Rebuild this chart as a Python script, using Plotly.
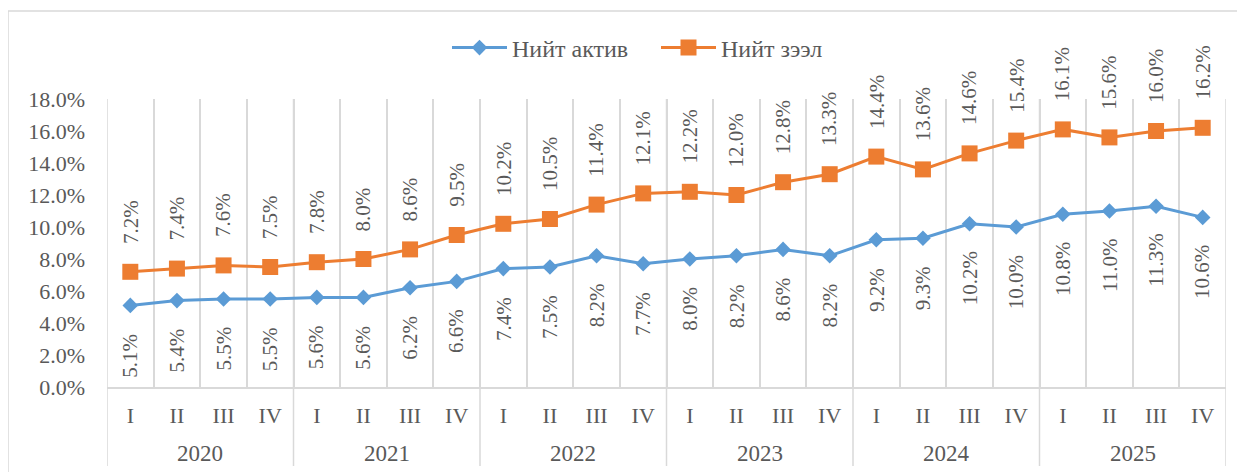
import plotly.graph_objects as go

years = ["2020"] * 4 + ["2021"] * 4 + ["2022"] * 4 + ["2023"] * 4 + ["2024"] * 4 + ["2025"] * 4
quarters = ["I", "II", "III", "IV"] * 6
niit_aktiv = [5.1, 5.4, 5.5, 5.5, 5.6, 5.6, 6.2, 6.6, 7.4, 7.5, 8.2, 7.7,
              8.0, 8.2, 8.6, 8.2, 9.2, 9.3, 10.2, 10.0, 10.8, 11.0, 11.3, 10.6]
niit_zeel = [7.2, 7.4, 7.6, 7.5, 7.8, 8.0, 8.6, 9.5, 10.2, 10.5, 11.4, 12.1,
             12.2, 12.0, 12.8, 13.3, 14.4, 13.6, 14.6, 15.4, 16.1, 15.6, 16.0, 16.2]
y_ticks = [0, 2, 4, 6, 8, 10, 12, 14, 16, 18]

BLUE = "#5B9BD5"
ORANGE = "#ED7D31"
GRAY = "#595959"
GRID = "#D9D9D9"
FONT = "Liberation Serif"

n = len(quarters)
idx = list(range(n))

# plot area (figure px): left 99, right 1218, top 91, bottom 379
PW, PH = 1119, 288

fig = go.Figure()
fig.add_trace(go.Scatter(
    x=idx, y=niit_aktiv, name="Нийт актив", mode="lines+markers",
    line=dict(color=BLUE, width=3),
    marker=dict(symbol="diamond", size=12, color=BLUE),
))
fig.add_trace(go.Scatter(
    x=idx, y=niit_zeel, name="Нийт зээл", mode="lines+markers",
    line=dict(color=ORANGE, width=3),
    marker=dict(symbol="square", size=16, color=ORANGE),
))

annotations = []
for i, v in zip(idx, niit_aktiv):
    annotations.append(dict(
        x=i, y=v, xref="x", yref="y", text=f"{v:.1f}%", showarrow=False,
        textangle=-90, yanchor="top", xanchor="center", yshift=-26,
        font=dict(family=FONT, size=21, color=GRAY),
    ))
for i, v in zip(idx, niit_zeel):
    annotations.append(dict(
        x=i, y=v, xref="x", yref="y", text=f"{v:.1f}%", showarrow=False,
        textangle=-90, yanchor="bottom", xanchor="center", yshift=26,
        font=dict(family=FONT, size=21, color=GRAY),
    ))

# year group boundaries and labels
bounds = [i for i in range(n + 1) if i == 0 or i == n or years[i] != years[i - 1]]
shapes = []
for b in bounds:
    shapes.append(dict(type="line", xref="x", yref="paper", x0=b - 0.5, x1=b - 0.5,
                       y0=-79 / PH, y1=1, line=dict(color=GRID, width=1.5), layer="below"))
for a, b in zip(bounds[:-1], bounds[1:]):
    annotations.append(dict(
        x=(a + b - 1) / 2, y=-66 / PH, xref="x", yref="paper", text=years[a],
        showarrow=False, xanchor="center", yanchor="middle",
        font=dict(family=FONT, size=23, color=GRAY),
    ))

shapes.append(dict(type="rect", xref="paper", yref="paper",
                   x0=-99 / PW, x1=(1262 - 99) / PW,
                   y0=-110 / PH, y1=(379 - 3) / PH,
                   line=dict(color=GRID, width=1.5), layer="below"))

fig.update_layout(
    width=1245, height=472,
    margin=dict(l=99, r=27, t=91, b=93, autoexpand=False),
    paper_bgcolor="white", plot_bgcolor="white",
    font=dict(family=FONT, size=22, color=GRAY),
    showlegend=True,
    legend=dict(orientation="h", x=(648 - 99) / PW, xanchor="center", y=(379 - 40) / PH,
                yanchor="middle", font=dict(family=FONT, size=24, color=GRAY), itemwidth=55,
                entrywidth=139, entrywidthmode="pixels", bgcolor="rgba(0,0,0,0)"),
    annotations=annotations,
    shapes=shapes,
)
fig.update_xaxes(
    range=[-0.5, n - 0.5], tickvals=idx, ticktext=quarters,
    showgrid=False, zeroline=False,
    minor=dict(tickvals=[i - 0.5 for i in range(n + 1)], showgrid=True,
               gridcolor=GRID, gridwidth=1.5, ticks=""),
    showline=True, linecolor=GRID, linewidth=1.5, ticks="", ticklabelstandoff=8,
    tickfont=dict(family=FONT, size=22, color=GRAY), automargin=False,
)
fig.update_yaxes(
    range=[0, 18], tickvals=y_ticks, ticktext=[f"{t:.1f}%" for t in y_ticks],
    showgrid=False, zeroline=False, showline=False, ticks="", ticklabelstandoff=21,
    tickfont=dict(family=FONT, size=22, color=GRAY), automargin=False,
)

fig.write_html("out.html")
